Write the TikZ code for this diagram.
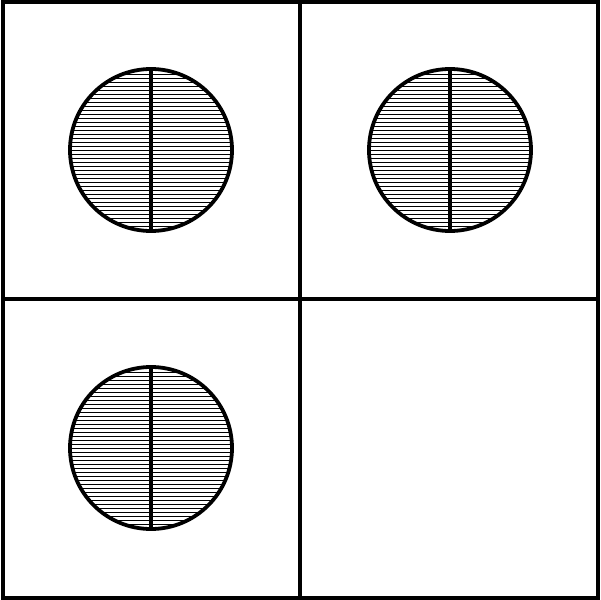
\documentclass[tikz,border=0pt]{standalone}
\usepackage{tikz}
\tikzset{
  frame/.style={line width=1.9pt, draw=black},
  disc/.style={line width=1.9pt, draw=black},
  hatch/.style={line width=0.5pt, draw=black},
  split/.style={line width=2pt, draw=black}
}

\begin{document}
\begin{tikzpicture}[x=0.5pt,y=-0.5pt]
\useasboundingbox (0,0) rectangle (601,600);
% grid of panels
\draw[frame] (3,2) rectangle (598,598);
\draw[frame] (300,2) -- (300,598);
\draw[frame] (3,299) -- (598,299);
% hatched discs
\foreach \cx/\cy in {151/150,450/150,151/448}{
  \begin{scope}
    \clip (\cx,\cy) circle (81);
    \foreach \dy in {-80,-76,...,80}{\draw[hatch] (\cx-82,\cy+\dy) -- (\cx+82,\cy+\dy);}
  \end{scope}
  \draw[split] (\cx,\cy-81) -- (\cx,\cy+81);
  \draw[disc] (\cx,\cy) circle (81);
}
\end{tikzpicture}
\end{document}
